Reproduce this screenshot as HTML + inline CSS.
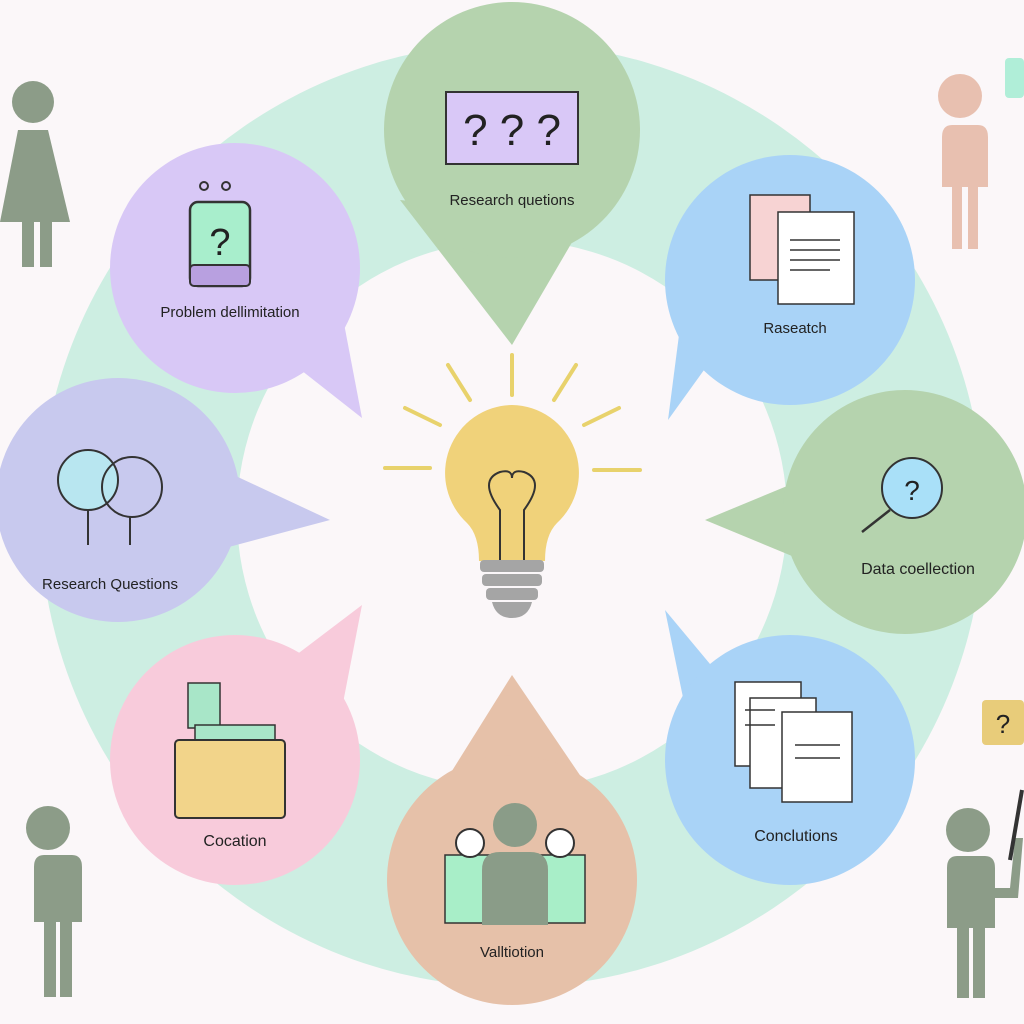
<!DOCTYPE html>
<html><head><meta charset="utf-8"><style>
html,body{margin:0;padding:0;background:#fbf7f9;}
svg{display:block}
text{font-family:"Liberation Sans",sans-serif;fill:#222;}
</style></head><body>
<svg width="1024" height="1024" viewBox="0 0 1024 1024">
<rect width="1024" height="1024" fill="#fbf7f9"/>
<!-- ring -->
<circle cx="512" cy="515" r="472" fill="#cdeee2"/>
<circle cx="512" cy="515" r="275" fill="#fbf7f9"/>
<!-- bubbles -->
<g>
<path d="M400 200 L512 345 L585 220 Z" fill="#b5d3ae"/>
<circle cx="512" cy="130" r="128" fill="#b5d3ae"/>
<path d="M250 330 L362 418 L330 250 Z" fill="#d8c8f6"/>
<circle cx="235" cy="268" r="125" fill="#d8c8f6"/>
<path d="M740 320 L668 420 L690 250 Z" fill="#a9d3f7"/>
<circle cx="790" cy="280" r="125" fill="#a9d3f7"/>
<path d="M180 450 L330 520 L180 560 Z" fill="#c8c9ee"/>
<circle cx="118" cy="500" r="122" fill="#c8c9ee"/>
<path d="M850 460 L705 520 L850 580 Z" fill="#b5d3ae"/>
<circle cx="905" cy="512" r="122" fill="#b5d3ae"/>
<path d="M250 690 L362 605 L330 770 Z" fill="#f8cbdb"/>
<circle cx="235" cy="760" r="125" fill="#f8cbdb"/>
<path d="M740 700 L665 610 L700 780 Z" fill="#a9d3f7"/>
<circle cx="790" cy="760" r="125" fill="#a9d3f7"/>
<path d="M440 790 L512 675 L590 790 Z" fill="#e6c1a9"/>
<circle cx="512" cy="880" r="125" fill="#e6c1a9"/>
</g>
<!-- icons -->
<rect x="446" y="92" width="132" height="72" fill="#d9c8f7" stroke="#333" stroke-width="2"/>
<text x="512" y="145" font-size="44" text-anchor="middle">? ? ?</text>
<text x="512" y="205" font-size="15" text-anchor="middle">Research quetions</text>

<rect x="190" y="202" width="60" height="84" rx="8" fill="#a8eecc" stroke="#333" stroke-width="2.5"/>
<rect x="190" y="265" width="60" height="21" rx="4" fill="#b8a0e0" stroke="#333" stroke-width="2"/>
<circle cx="204" cy="186" r="4" fill="none" stroke="#333" stroke-width="2"/><circle cx="226" cy="186" r="4" fill="none" stroke="#333" stroke-width="2"/>
<text x="220" y="255" font-size="38" text-anchor="middle">?</text>
<text x="230" y="317" font-size="15" text-anchor="middle">Problem dellimitation</text>

<rect x="750" y="195" width="60" height="85" fill="#f7d3d3" stroke="#333" stroke-width="1.5"/>
<rect x="778" y="212" width="76" height="92" fill="#fff" stroke="#333" stroke-width="1.5"/>
<g stroke="#333" stroke-width="1.5"><line x1="790" y1="240" x2="840" y2="240"/><line x1="790" y1="250" x2="840" y2="250"/><line x1="790" y1="260" x2="840" y2="260"/><line x1="790" y1="270" x2="830" y2="270"/></g>
<text x="795" y="333" font-size="15" text-anchor="middle">Raseatch</text>

<circle cx="88" cy="480" r="30" fill="#b8e6f0" stroke="#333" stroke-width="2"/>
<circle cx="132" cy="487" r="30" fill="none" stroke="#333" stroke-width="2"/>
<line x1="88" y1="510" x2="88" y2="545" stroke="#333" stroke-width="2"/><line x1="130" y1="517" x2="130" y2="545" stroke="#333" stroke-width="2"/>
<text x="110" y="589" font-size="15" text-anchor="middle">Research Questions</text>

<circle cx="912" cy="488" r="30" fill="#a9e0f8" stroke="#333" stroke-width="2"/>
<line x1="890" y1="510" x2="862" y2="532" stroke="#333" stroke-width="2.5"/>
<text x="912" y="500" font-size="28" text-anchor="middle">?</text>
<text x="918" y="574" font-size="16" text-anchor="middle">Data coellection</text>

<rect x="188" y="683" width="32" height="45" fill="#a8e6c8" stroke="#333" stroke-width="1.5"/>
<rect x="195" y="725" width="80" height="25" fill="#a8e6c8" stroke="#333" stroke-width="1.5"/>
<rect x="175" y="740" width="110" height="78" rx="4" fill="#f2d48a" stroke="#333" stroke-width="2"/>
<text x="235" y="846" font-size="16" text-anchor="middle">Cocation</text>

<rect x="735" y="682" width="66" height="84" fill="#fff" stroke="#333" stroke-width="1.5"/>
<rect x="750" y="698" width="66" height="90" fill="#fff" stroke="#333" stroke-width="1.5"/>
<rect x="782" y="712" width="70" height="90" fill="#fff" stroke="#333" stroke-width="1.5"/>
<g stroke="#333" stroke-width="1.5"><line x1="795" y1="745" x2="840" y2="745"/><line x1="795" y1="758" x2="840" y2="758"/><line x1="745" y1="710" x2="775" y2="710"/><line x1="745" y1="725" x2="775" y2="725"/></g>
<text x="796" y="841" font-size="16" text-anchor="middle">Conclutions</text>

<rect x="445" y="855" width="45" height="68" fill="#a8eec8" stroke="#333" stroke-width="1.5"/>
<rect x="540" y="855" width="45" height="68" fill="#a8eec8" stroke="#333" stroke-width="1.5"/>
<circle cx="470" cy="843" r="14" fill="#fff" stroke="#333" stroke-width="2"/>
<circle cx="560" cy="843" r="14" fill="#fff" stroke="#333" stroke-width="2"/>
<circle cx="515" cy="825" r="22" fill="#8a9c88"/>
<path d="M482 925 V870 q0 -18 18 -18 h30 q18 0 18 18 V925 Z" fill="#8a9c88"/>
<text x="512" y="957" font-size="15" text-anchor="middle">Valltiotion</text>

<!-- bulb -->
<g stroke="#e8d26c" stroke-width="4" stroke-linecap="round">
<line x1="512" y1="355" x2="512" y2="395"/><line x1="448" y1="365" x2="470" y2="400"/><line x1="576" y1="365" x2="554" y2="400"/>
<line x1="405" y1="408" x2="440" y2="425"/><line x1="619" y1="408" x2="584" y2="425"/>
<line x1="385" y1="468" x2="430" y2="468"/><line x1="594" y1="470" x2="640" y2="470"/>
</g>
<path d="M512 405 a68 68 0 0 1 45 118 q-12 12 -12 38 h-66 q0 -26 -12 -38 a68 68 0 0 1 45 -118 Z" fill="#f0d27a"/>
<path d="M500 560 V510 q-22 -30 0 -38 q12 -3 12 6 q0 -9 12 -6 q22 8 0 38 V560" fill="none" stroke="#333" stroke-width="2"/>
<rect x="480" y="560" width="64" height="12" rx="4" fill="#a5a5a5"/>
<rect x="482" y="574" width="60" height="12" rx="4" fill="#a5a5a5"/>
<rect x="486" y="588" width="52" height="12" rx="4" fill="#a5a5a5"/>
<path d="M492 602 h40 q-4 16 -20 16 q-16 0 -20 -16Z" fill="#a5a5a5"/>

<!-- people -->
<g fill="#8c9c88">
<circle cx="33" cy="102" r="21"/><path d="M18 130 h30 l22 92 h-18 v45 h-12 v-45 h-6 v45 h-12 v-45 h-22 Z"/>
<circle cx="960" cy="96" r="22" fill="#e8c0b0"/><path d="M942 125 h36 q10 0 10 12 v50 h-10 v62 h-10 v-62 h-6 v62 h-10 v-62 h-10 v-50 q0 -12 10 -12Z" fill="#e8c0b0"/>
<circle cx="48" cy="828" r="22"/><path d="M24 855 h48 q10 0 10 12 v55 h-10 v75 h-12 v-75 h-4 v75 h-12 v-75 h-10 v-55 q0 -12 10 -12Z"/>
<circle cx="968" cy="830" r="22"/><path d="M945 856 h40 q10 0 10 12 v20 h15 l5 -50 l8 0 l-5 60 h-23 v30 h-10 v70 h-12 v-70 h-4 v70 h-12 v-70 h-10 v-60 q0 -12 10 -12Z"/>
</g>
<rect x="1005" y="58" width="19" height="40" rx="4" fill="#b0eed8"/>
<rect x="982" y="700" width="42" height="45" rx="4" fill="#e8cc7a"/>
<text x="1003" y="733" font-size="26" text-anchor="middle">?</text>
<line x1="1022" y1="790" x2="1010" y2="860" stroke="#333" stroke-width="4"/>
</svg>
</body></html>
